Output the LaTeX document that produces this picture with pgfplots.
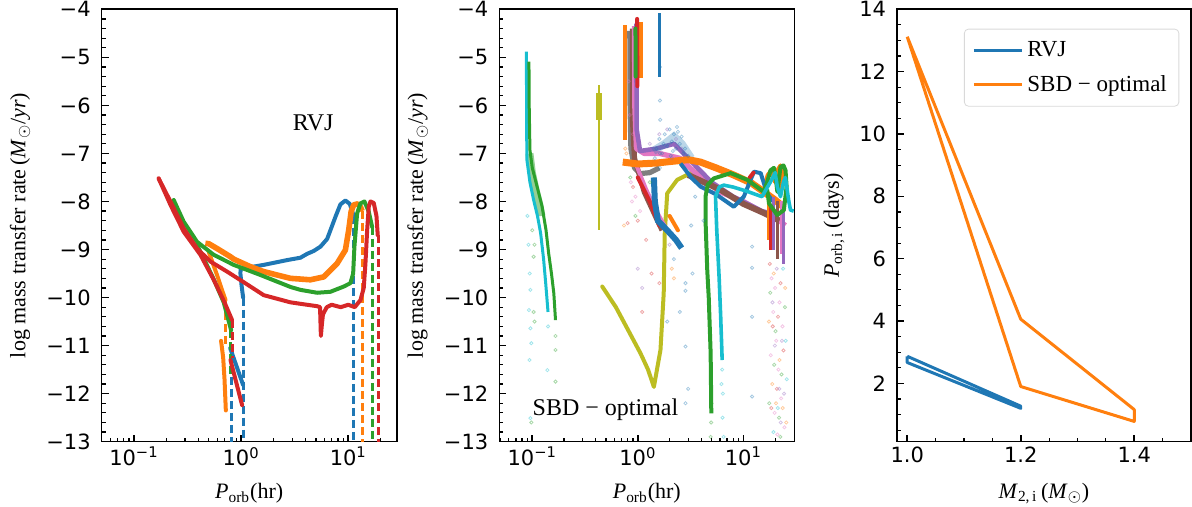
\documentclass[border=0pt]{standalone}
\usepackage{fontspec}
\setmainfont{Liberation Serif}
\newfontfamily\tickfont{DejaVu Sans}
\usepackage{pgfplots}
\pgfplotsset{compat=1.18}

\definecolor{C0}{RGB}{31,119,180}
\definecolor{C1}{RGB}{255,127,14}
\definecolor{C2}{RGB}{44,160,44}
\definecolor{C3}{RGB}{214,39,40}
\definecolor{C4}{RGB}{148,103,189}
\definecolor{C5}{RGB}{140,86,75}
\definecolor{C6}{RGB}{227,119,194}
\definecolor{C7}{RGB}{127,127,127}
\definecolor{C8}{RGB}{188,189,34}
\definecolor{C9}{RGB}{23,190,207}

\pgfplotsset{
  panel/.style={
    scale only axis, height=216.2pt,
    tick align=inside, tick pos=left,
    major tick length=3.5pt, minor tick length=2pt,
    every tick/.append style={black, line width=0.8pt},
    every minor tick/.append style={line width=0.6pt},
    axis line style={line width=0.8pt},
    tick label style={font=\tickfont\fontsize{10.5}{12}\selectfont},
    yticklabel style={inner xsep=0pt, xshift=-5.3pt},
    xticklabel style={inner ysep=2.5pt},
    label style={font=\fontsize{11}{13}\selectfont},
    xlabel style={at={([yshift=-26pt]rel axis cs:0.5,0)}, anchor=center},
  },
  logpanel/.style={
    panel, width=147.5pt,
    xtick={0.1,1,10},
    xticklabels={10\textsuperscript{−1},10\textsuperscript{0},10\textsuperscript{1}},
    minor xtick={0.05,0.06,0.07,0.08,0.09,0.2,0.3,0.4,0.5,0.6,0.7,0.8,0.9,2,3,4,5,6,7,8,9,20},
    ymin=-13, ymax=-4,
    ytick={-13,-12,-11,-10,-9,-8,-7,-6,-5,-4},
    yticklabels={−13,−12,−11,−10,−9,−8,−7,−6,−5,−4},
    minor y tick num=4,
    xlabel={\textit{P}\textsubscript{orb}(hr)},
    ylabel={log mass transfer rate\,(\textit{M}$_\odot$/\textit{yr})},
    ylabel style={at={([xshift=-40.8pt]rel axis cs:0,0.5)}, anchor=center},
  },
  lw/.style={line width=2pt, line join=round, line cap=round},
  dsh/.style={line width=1.6pt, dash pattern=on 4pt off 2pt},
  dots/.style={only marks, mark=o, mark size=0.8pt, mark options={line width=0.4pt, opacity=0.4}},
}

\begin{document}
\begin{tikzpicture}
\useasboundingbox (0,0) rectangle (596pt,253.5pt);

% ---------------- left panel: RVJ
\begin{axis}[xmode=log, logpanel, at={(50.85pt,32.65pt)}, anchor=south west, xmin=0.05, xmax=28.3]
% blue
\addplot[C0, lw] coordinates {(1.044,-10.0)(1.01,-9.75)(0.985,-9.5)(0.99,-9.4)(1.2,-9.37)(1.625,-9.32)(2.69,-9.22)(3.58,-9.17)(4.13,-9.09)(4.76,-9.03)(5.5,-8.94)(6.35,-8.78)(6.81,-8.6)(7.59,-8.32)(8.45,-8.06)(9.4,-7.98)(10.32,-8.05)(10.87,-8.2)(11.24,-8.3)};
\addplot[C0, dsh] coordinates {(11.24,-8.3)(11.24,-13.1)};
\addplot[C0, dsh] coordinates {(1.044,-10.0)(1.044,-13.1)};
\addplot[C0, lw] coordinates {(0.79,-11.05)(1.044,-11.82)};
\addplot[C0, dsh] coordinates {(0.815,-11.15)(0.815,-13.1)};
% orange
\addplot[C1, line width=2.8pt, line join=round] coordinates {(0.464,-8.87)(0.50,-8.88)(0.597,-8.98)(0.795,-9.15)(0.853,-9.2)(1.2,-9.35)(1.625,-9.46)(2.89,-9.6)(4.43,-9.63)(5.9,-9.57)(7.87,-9.29)(9.4,-9.01)(10.1,-8.59)(10.63,-8.21)(11.24,-8.07)(12.25,-8.05)(12.98,-8.11)(13.47,-8.2)};
\addplot[C1, dsh] coordinates {(13.47,-8.2)(13.47,-13.1)};
\addplot[C1, lw] coordinates {(0.499,-9.05)(0.60,-9.55)(0.665,-9.85)(0.715,-10.05)};
\addplot[C1, dsh] coordinates {(0.715,-10.05)(0.715,-11.0)};
\addplot[C1, lw] coordinates {(0.65,-10.9)(0.68,-11.25)(0.70,-11.7)(0.72,-12.35)};
% green
\addplot[C2, lw] coordinates {(0.235,-7.97)(0.291,-8.42)(0.388,-8.84)(0.555,-9.11)(0.853,-9.32)(1.514,-9.53)(2.89,-9.78)(3.58,-9.84)(5.12,-9.9)(6.81,-9.88)(9.08,-9.77)(10.47,-9.70)(11.10,-9.50)(11.41,-8.94)(12.09,-8.25)(12.98,-8.04)(14.15,-8.0)(15.52,-8.21)(16.7,-8.53)};
\addplot[C2, dsh] coordinates {(16.9,-8.53)(16.9,-13.1)};
\addplot[C2, lw] coordinates {(0.388,-8.9)(0.55,-9.6)(0.688,-10.1)(0.807,-10.68)};
\addplot[C2, dsh] coordinates {(0.80,-10.68)(0.80,-11.65)};
% red
\addplot[C3, lw] coordinates {(0.170,-7.52)(0.219,-8.0)(0.291,-8.56)(0.388,-8.98)(0.517,-9.25)(0.740,-9.46)(1.057,-9.68)(1.625,-9.95)(2.89,-10.1)(5.12,-10.18)(5.45,-10.2)(5.55,-10.8)(5.65,-10.6)(5.8,-10.35)(6.3,-10.2)(7.0,-10.15)(8.5,-10.2)(10,-10.15)(11.5,-10.2)(13.0,-10.05)(13.94,-9.8)(14.45,-9.3)(15.0,-8.6)(15.52,-8.11)(16.1,-8.0)(17.28,-8.03)(18.32,-8.3)(18.83,-8.7)};
\addplot[C3, dsh] coordinates {(19.0,-8.7)(19.0,-13.1)};
\addplot[C3, lw] coordinates {(0.170,-7.52)(0.219,-8.07)(0.291,-8.63)(0.417,-9.11)(0.555,-9.63)(0.70,-10.1)(0.824,-10.47)};
\addplot[C3, dsh] coordinates {(0.824,-10.47)(0.824,-11.25)};
\addplot[C3, lw] coordinates {(0.795,-11.3)(1.022,-12.24)};
\node[font=\fontsize{12}{14}\selectfont] at (axis cs:4.7,-6.37) {RVJ};
\end{axis}

% ---------------- middle panel: SBD - optimal
\begin{axis}[xmode=log, logpanel, at={(249.65pt,32.65pt)}, anchor=south west, xmin=0.0487, xmax=30.4]
% faint scatter
\addplot[C9, dots] coordinates {(0.0946,-9.5)(0.096,-9.84)(0.093,-10.26)(0.096,-10.64)(0.098,-10.95)(0.094,-11.3)(0.139,-11.51)(0.096,-12.51)(0.09,-8.3)(0.092,-8.9)(0.141,-10.6)(6.3,-11.5)(6.4,-12.0)(6.35,-12.5)(6.5,-12.9)(6.2,-11.8)(25.2,-10.9)(23.8,-9.4)(21.2,-12.3)(19.3,-12.8)(25.8,-11.7)};
\addplot[C2, dots] coordinates {(0.103,-9.15)(0.166,-11.09)(0.166,-11.75)(0.103,-10.3)(0.105,-10.5)(0.166,-10.8)(0.1,-8.6)(0.105,-8.9)(0.098,-12.6)(4.95,-12.6)(4.9,-12.9)(5.0,-12.2)(0.85,-7.5)(0.95,-8.3)(1.3,-7.6)(18,-9.9)(19.6,-11.4)(21.8,-12.5)(23,-11.6)(24.8,-10.2)(20.2,-10.7)(17.6,-12.2)(22.4,-12.9)};
\addplot[C6, dots] coordinates {(0.82,-5.5)(0.84,-6.2)(0.9,-6.6)(0.86,-7.6)(0.95,-7.9)(1.05,-8.2)(0.88,-8.0)(18.5,-9.6)(19.2,-10.3)(20.5,-10.9)(21.5,-11.5)(22.8,-12.1)(19.8,-12.4)(23.5,-10.6)(18.2,-11.2)(24.5,-12.7)(21,-12.85)(20,-9.8)(22,-10.1)};
\addplot[C3, dots] coordinates {(0.9,-7.7)(1.0,-8.4)(1.2,-8.8)(1.35,-9.5)(1.1,-10.3)(0.8,-8.45)(1.6,-9.7)(17.8,-9.3)(19,-10.6)(20.8,-11.9)(22.5,-9.7)(18.4,-12.3)(24,-11.1)(21.3,-10.4)};
\addplot[C4, dots] coordinates {(1.0,-9.4)(1.1,-9.8)(2.0,-8.9)(18.9,-10.1)(20.7,-9.4)(21.9,-11.9)(23.2,-10.9)(24.3,-12.0)(19.9,-11.0)(22.6,-12.6)(1.6,-6.6)(1.9,-6.5)(2.3,-6.7)(2.6,-6.9)(1.3,-6.8)(2.1,-7.1)};
\addplot[C1, dots] coordinates {(0.76,-6.9)(0.78,-7.0)(0.74,-8.5)(2.1,-9.4)(2.2,-9.6)(17.5,-10.5)(18.8,-11.8)(20.4,-12.2)(23.6,-12.3)(24.9,-9.8)(22,-11.3)(19.4,-9.5)(25.5,-12.6)};
\addplot[C0, dots] coordinates {(2.83,-9.7)(2.83,-9.86)(2.83,-11.02)(2.83,-12.2)(2.2,-9.2)(2.5,-10.3)(3.0,-11.9)(3.2,-8.5)(3.3,-9.5)(1.9,-10.5)(12.1,-8.94)(12.1,-9.38)(12.1,-10.4)(12.1,-12.06)(1.62,-7.0)(1.62,-7.3)(3.5,-7.9)(4.2,-8.4)(1.5,-6.9)(1.6,-6.7)(1.7,-7.0)(1.8,-6.6)(1.9,-6.85)(2.0,-6.5)(2.1,-6.75)(2.2,-6.6)(2.3,-6.9)(2.4,-6.55)(2.5,-6.8)(2.6,-6.65)(2.7,-7.0)(2.8,-6.9)(3.0,-7.05)(1.45,-7.1)(2.05,-7.05)(2.35,-6.45)(1.75,-6.8)(2.15,-6.95)(1.62,-5.2)(1.62,-5.9)(1.63,-6.3)};
% left tracks
\addplot[C2, line width=4pt, opacity=0.5] coordinates {(0.094,-7.0)(0.099,-7.4)(0.107,-7.75)(0.116,-8.05)(0.122,-8.3)};
\addplot[C9, line width=1.5pt] coordinates {(0.088,-4.88)(0.0882,-5.8)(0.0885,-6.6)(0.089,-7.14)(0.095,-7.6)(0.103,-7.97)(0.112,-8.3)(0.12,-8.66)(0.128,-9.2)(0.134,-9.7)(0.141,-10.3)};
\addplot[C2, line width=1.5pt] coordinates {(0.093,-5.09)(0.0935,-6.0)(0.095,-6.93)(0.1,-7.3)(0.111,-7.69)(0.124,-8.11)(0.135,-8.6)(0.143,-9.08)(0.152,-9.5)(0.160,-9.91)(0.166,-10.47)};
% olive
\addplot[C8, line width=1.2pt] coordinates {(0.427,-5.58)(0.427,-8.6)};
\addplot[C8, line width=3pt] coordinates {(0.427,-5.75)(0.427,-6.3)};
\addplot[C8, lw] coordinates {(0.46,-9.77)(0.62,-10.2)(0.793,-10.64)(1.06,-11.16)(1.25,-11.5)(1.42,-11.86)(1.64,-11.09)(1.76,-9.91)(1.80,-8.66)(1.90,-7.83)(2.36,-7.55)(3.16,-7.41)(3.93,-7.38)};
% vertical bundle near 1 hr
\addplot[C1, line width=2pt] coordinates {(0.75,-4.33)(0.75,-6.72)};
\addplot[C1, line width=2pt] coordinates {(1.07,-4.26)(1.07,-5.44)};
\addplot[C7, line width=2.6pt, line join=round] coordinates {(0.84,-4.45)(0.845,-6.0)(0.86,-6.9)(0.93,-7.3)(1.05,-7.42)(1.3,-7.4)(1.6,-7.3)};
\addplot[C5, line width=2.6pt, line join=round] coordinates {(0.89,-4.4)(0.89,-6.3)(0.93,-7.1)(1.15,-7.8)(1.5,-8.35)(1.7,-8.6)};
\addplot[C6, line width=2.6pt, line join=round] coordinates {(0.93,-4.35)(0.935,-6.0)(0.97,-6.9)(1.15,-7.0)(1.6,-7.0)(2.5,-7.1)(3.5,-7.4)(6,-7.8)(10,-8.0)(16,-8.25)(22,-8.4)(25,-8.5)};
\addplot[C6, lw] coordinates {(0.95,-7.2)(1.2,-7.75)(1.5,-8.2)(1.9,-8.6)};
\addplot[C4, line width=2.3pt, line join=round] coordinates {(0.97,-4.3)(0.975,-6.5)(1.05,-6.95)(1.5,-6.9)(2.2,-6.8)(3,-7.1)(5,-7.6)(8,-7.9)(15,-8.2)(22,-8.3)};
\addplot[C3, lw] coordinates {(0.985,-4.2)(0.99,-5.6)};
\addplot[C2, lw] coordinates {(0.95,-4.4)(0.955,-5.4)};
\addplot[C3, lw] coordinates {(1.0,-7.5)(1.3,-8.0)(1.6,-8.5)};
% blue pieces
\addplot[C0, line width=1.5pt] coordinates {(1.62,-4.08)(1.62,-5.4)};
\addplot[C0, line width=4pt, opacity=0.3] coordinates {(1.4,-6.95)(1.8,-6.8)(2.2,-6.65)(2.6,-6.8)(3.2,-7.1)};
\addplot[C0, line width=3pt] coordinates {(1.42,-7.5)(1.45,-8.0)(1.55,-8.4)(1.9,-8.6)(2.3,-8.8)(2.6,-8.97)};
\addplot[C1, lw] coordinates {(2.0,-8.3)(2.4,-8.6)};
% orange band
\addplot[C1, line width=3.5pt, line join=round] coordinates {(0.72,-7.18)(1.0,-7.22)(1.5,-7.2)(2.0,-7.17)(3.0,-7.13)(3.93,-7.18)(5.5,-7.3)(8.12,-7.45)(12,-7.62)(16.8,-7.85)(20,-7.97)(24.2,-8.12)};
\addplot[C1, lw] coordinates {(15.5,-7.8)(17,-7.45)(18.5,-7.35)(20,-7.6)(21,-7.35)(22.5,-7.25)(23.5,-7.4)(22,-7.8)};
% right band
\addplot[C5, line width=3pt] coordinates {(3,-7.45)(6,-7.75)(10,-8.05)(16,-8.25)(22,-8.4)};
\addplot[C0, line width=2pt, line join=round] coordinates {(2.54,-7.21)(3.2,-7.5)(3.93,-7.69)(5.5,-7.85)(8.12,-8.11)(10.1,-7.9)(12.6,-7.38)(14.6,-7.41)(16.8,-7.83)(19,-8.0)};
\addplot[C3, lw] coordinates {(11.5,-7.5)(12.5,-7.4)};
\addplot[C1, line width=1.5pt] coordinates {(17.5,-7.9)(17.5,-8.8)};
\addplot[C3, line width=1.5pt] coordinates {(18,-8.1)(18,-9.0)};
\addplot[C4, line width=1.5pt] coordinates {(19.5,-7.9)(19.5,-9.0)};
\addplot[C5, line width=1.5pt] coordinates {(21,-8.0)(21,-9.2)};
\addplot[C6, line width=1.5pt] coordinates {(23,-8.0)(23,-9.1)};
\addplot[C4, line width=1.5pt] coordinates {(24,-8.2)(24,-9.3)};
% green and cyan loops
\addplot[C2, line width=2pt, line join=round] coordinates {(4.97,-12.41)(4.9,-11.16)(4.7,-10.0)(4.55,-9.43)(4.4,-8.5)(4.38,-7.9)(4.6,-7.65)(5.25,-7.52)(7.58,-7.41)(10.9,-7.55)(15.6,-7.80)(16.8,-7.6)(18.1,-7.35)(19.5,-7.3)(20.5,-7.6)(21,-7.8)(22.5,-7.28)(24,-7.25)(25.1,-7.35)(25.7,-7.69)(24.2,-8.18)(20.9,-8.28)(17.5,-8.04)(16.8,-7.75)};
\addplot[C9, line width=1.8pt, line join=round] coordinates {(6.3,-11.3)(6.1,-10.4)(5.9,-9.6)(5.6,-8.6)(5.45,-7.9)(5.9,-7.7)(6.53,-7.66)(8,-7.7)(10.9,-7.79)(15,-7.9)(18,-7.6)(20,-7.4)(21,-7.7)(22.5,-7.9)(24,-7.6)(25,-7.5)(27,-8.0)(28,-8.18)(30,-8.2)};
\node[font=\fontsize{12}{14}\selectfont] at (axis cs:0.494,-12.34) {SBD − optimal};
\end{axis}

% ---------------- right panel
\begin{axis}[panel, at={(448.5pt,32.65pt)}, anchor=south west, width=147pt,
  xmin=0.982, xmax=1.5, ymin=0.13, ymax=14,
  xtick={1.0,1.2,1.4}, xticklabels={1.0,1.2,1.4},
  minor xtick={1.05,1.1,1.15,1.25,1.3,1.35,1.45},
  ytick={2,4,6,8,10,12,14}, yticklabels={2,4,6,8,10,12,14},
  minor ytick={0.5,1,1.5,2.5,3,3.5,4.5,5,5.5,6.5,7,7.5,8.5,9,9.5,10.5,11,11.5,12.5,13,13.5},
  xlabel={\textit{M}\textsubscript{2,\,i}\,(\textit{M}$_\odot$)},
  ylabel={\textit{P}\textsubscript{orb,\,i}\,(days)},
  ylabel style={at={([xshift=-31.5pt]rel axis cs:0,0.5)}, anchor=center},
  legend style={at={(0.96,0.955)}, anchor=north east, draw=black!15, rounded corners=2pt,
    font=\fontsize{11.5}{13}\selectfont, row sep=4pt, inner xsep=4pt, inner ysep=4pt,
    cells={anchor=west}},
  legend image code/.code={\draw[#1] (0pt,0pt) -- (24pt,0pt);},
]
\addplot[C0, line width=1.5pt, line join=round] coordinates {(1.0,2.87)(1.2,1.27)(1.2,1.2)(1.0,2.67)(1.0,2.87)};
\addlegendentry{RVJ}
\addplot[C1, line width=1.5pt, line join=round] coordinates {(1.0,13.12)(1.2,4.06)(1.4,1.16)(1.4,0.78)(1.2,1.9)(1.0,13.12)};
\addlegendentry{SBD − optimal}
\end{axis}
\end{tikzpicture}
\end{document}
